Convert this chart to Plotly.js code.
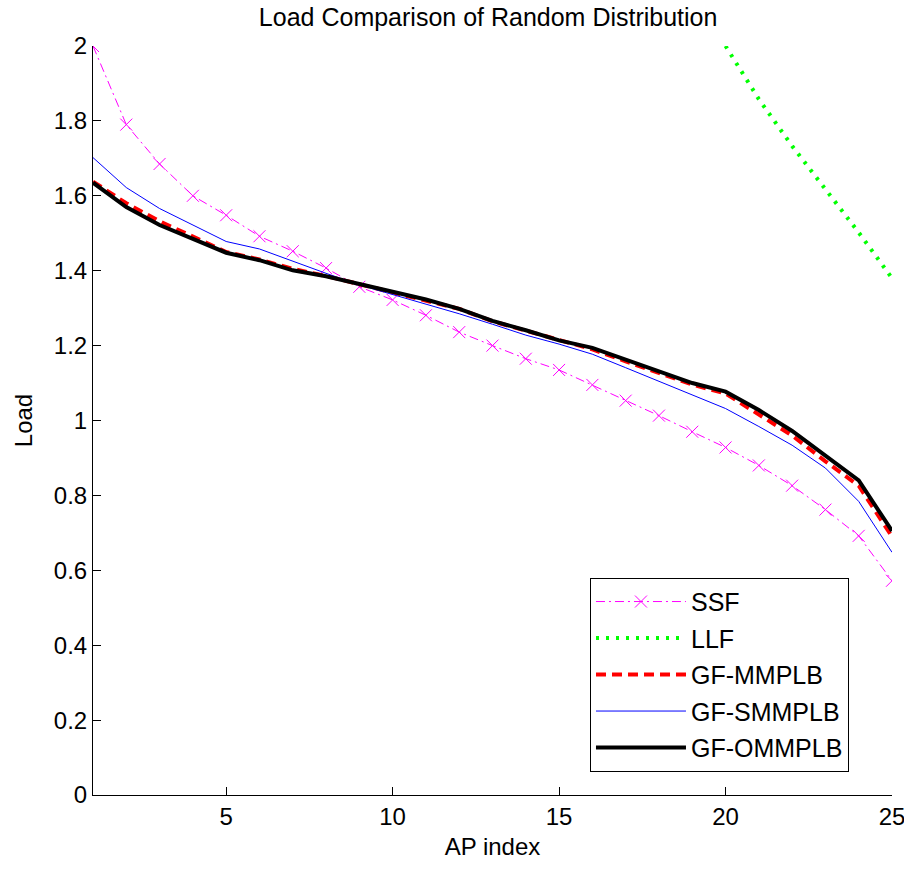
<!DOCTYPE html>
<html>
<head>
<meta charset="utf-8">
<script src="https://cdn.plot.ly/plotly-3.0.1.min.js"></script>
<style>html,body{margin:0;padding:0;background:#fff;}#chart{width:904px;height:873px;}</style>
</head>
<body>
<div id="chart"></div>
<script>
// AP index (x values)
const apIndex = [1,2,3,4,5,6,7,8,9,10,11,12,13,14,15,16,17,18,19,20,21,22,23,24,25];
// Series values (Load)
const ssf = [2.0,1.79,1.685,1.60,1.548,1.492,1.452,1.407,1.357,1.322,1.281,1.236,1.200,1.165,1.135,1.095,1.053,1.013,0.970,0.928,0.880,0.826,0.762,0.692,0.572];
const llfIndex = [20,21,22,23,24,25];
const llf = [2.0,1.858,1.733,1.618,1.502,1.38];
const gfMMPLB = [1.638,1.58,1.532,1.49,1.45,1.43,1.405,1.386,1.364,1.344,1.322,1.298,1.265,1.240,1.213,1.19,1.158,1.126,1.096,1.072,1.016,0.96,0.891,0.826,0.69];
const gfSMMPLB = [1.702,1.622,1.566,1.522,1.478,1.458,1.425,1.393,1.362,1.336,1.312,1.285,1.257,1.228,1.204,1.177,1.141,1.105,1.068,1.032,0.984,0.934,0.873,0.784,0.648];
const gfOMMPLB = [1.635,1.57,1.522,1.486,1.448,1.428,1.401,1.385,1.365,1.345,1.323,1.298,1.266,1.241,1.214,1.194,1.162,1.131,1.100,1.077,1.028,0.972,0.906,0.84,0.705];
// Tick labels
const xTicks = [5,10,15,20,25];
const yTicks = [0,0.2,0.4,0.6,0.8,1,1.2,1.4,1.6,1.8,2];
const yTickText = ['0','0.2','0.4','0.6','0.8','1','1.2','1.4','1.6','1.8','2'];

const FONT = 'Liberation Sans, Arial, sans-serif';
const FS = 24;

const traces = [
  {x: apIndex, y: ssf, name: 'SSF', mode: 'lines+markers', legendgroup: 'a',
   line: {color: '#ff00ff', width: 1, dash: '9px,4px,2px,4px'},
   marker: {symbol: 'x-thin-open', size: 12, color: '#ff00ff', line: {color: '#ff00ff', width: 1}}},
  {x: llfIndex, y: llf, name: 'LLF', mode: 'lines', legendgroup: 'b',
   line: {color: '#00ff00', width: 4, dash: '3px,7px'}},
  {x: apIndex, y: gfMMPLB, name: 'GF-MMPLB', mode: 'lines', legendgroup: 'c',
   line: {color: '#ff0000', width: 4, dash: '10px,6px'}},
  {x: apIndex, y: gfSMMPLB, name: 'GF-SMMPLB', mode: 'lines', legendgroup: 'd',
   line: {color: '#0000ff', width: 1}},
  {x: apIndex, y: gfOMMPLB, name: 'GF-OMMPLB', mode: 'lines', legendgroup: 'e',
   line: {color: '#000000', width: 4}}
];

const layout = {
  width: 904, height: 873,
  margin: {l: 93, r: 12, t: 46, b: 78},
  paper_bgcolor: '#fff', plot_bgcolor: '#fff',
  font: {family: FONT, size: FS, color: '#000'},
  title: {text: 'Load Comparison of Random Distribution', x: 0.54, xanchor: 'center', y: 0.99, yanchor: 'top',
          font: {family: FONT, size: 25, color: '#000'}},
  xaxis: {range: [1, 25], tickvals: xTicks, ticktext: xTicks.map(String),
          ticks: 'inside', ticklen: 8, tickcolor: '#000', tickwidth: 1,
          showline: true, linecolor: '#000', linewidth: 1, mirror: false,
          showgrid: false, zeroline: false, ticklabeloverflow: 'allow',
          tickfont: {family: FONT, size: FS, color: '#000'},
          title: {text: 'AP index', font: {family: FONT, size: FS, color: '#000'}, standoff: 9}},
  yaxis: {range: [0, 2], tickvals: yTicks, ticktext: yTickText,
          ticks: 'inside', ticklen: 8, tickcolor: '#000', tickwidth: 1,
          showline: true, linecolor: '#000', linewidth: 1, mirror: false,
          showgrid: false, zeroline: false,
          tickfont: {family: FONT, size: FS, color: '#000'},
          title: {text: 'Load', font: {family: FONT, size: FS, color: '#000'}, standoff: 14}},
  legend: {x: 0.622, y: 0.29, xanchor: 'left', yanchor: 'top',
           bordercolor: '#000', borderwidth: 1, bgcolor: '#fff',
           font: {family: FONT, size: 25, color: '#000'},
           tracegroupgap: 1, itemwidth: 90},
  showlegend: true
};

Plotly.newPlot('chart', traces, layout, {displayModeBar: false, staticPlot: true});
</script>
</body>
</html>
